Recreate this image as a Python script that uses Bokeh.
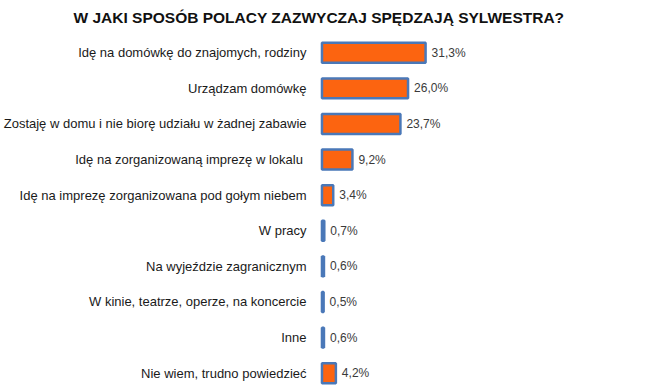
from bokeh.plotting import figure
from bokeh.models import Range1d, FixedTicker, ColumnDataSource
from bokeh.core.properties import value
from bokeh.embed import file_html
from bokeh.resources import INLINE

title = "W JAKI SPOSÓB POLACY ZAZWYCZAJ SPĘDZAJĄ SYLWESTRA?"
categories = [
    "Idę na domówkę do znajomych, rodziny",
    "Urządzam domówkę",
    "Zostaję w domu i nie biorę udziału w żadnej zabawie",
    "Idę na zorganizowaną imprezę w  lokalu",
    "Idę na imprezę zorganizowana pod gołym niebem",
    "W pracy",
    "Na wyjeździe zagranicznym",
    "W kinie, teatrze, operze, na koncercie",
    "Inne",
    "Nie wiem, trudno powiedzieć",
]
values = [31.3, 26.0, 23.7, 9.2, 3.4, 0.7, 0.6, 0.5, 0.6, 4.2]
value_labels = ["31,3%", "26,0%", "23,7%", "9,2%", "3,4%", "0,7%", "0,6%", "0,5%", "0,6%", "4,2%"]

W, H = 653, 391
LEFT, TOP = 310, 28
scale = 3.32
zero_px = 320.5
x0 = -(zero_px - LEFT) / scale
x1 = x0 + (W - LEFT) / scale
first_c, step = 48.5, 36.0
y_top = -(first_c - TOP) / step
y_bot = (H - first_c) / step

pos = list(range(len(categories)))
src = ColumnDataSource(dict(y=pos, v=values, lab=value_labels))

p = figure(width=W, height=H, output_backend="svg", toolbar_location=None,
           x_range=Range1d(x0, x1), y_range=Range1d(y_bot, y_top),
           min_border_left=LEFT, min_border_top=TOP, min_border_right=0, min_border_bottom=0)
p.outline_line_color = None
p.background_fill_color = "white"
p.border_fill_color = "white"
p.xgrid.visible = False
p.ygrid.visible = False
p.xaxis.visible = False

p.title.text = title
p.title.align = "left"
p.title.offset = 72 - LEFT
p.title.standoff = 13
p.title.text_font = "Liberation Sans"
p.title.text_font_size = "15.5px"
p.title.text_font_style = "bold"
p.title.text_color = "#111111"

ax = p.yaxis[0]
ax.ticker = FixedTicker(ticks=pos)
ax.major_label_overrides = {i: c for i, c in enumerate(categories)}
ax.axis_line_color = None
ax.major_tick_line_color = None
ax.minor_tick_line_color = None
ax.major_tick_out = 0
ax.major_tick_in = 0
ax.major_label_standoff = 5
ax.major_label_text_font = "Liberation Sans"
ax.major_label_text_font_size = "13px"
ax.major_label_text_color = "#1a1a1a"

p.hbar(y="y", left=0, right="v", height=0.56, source=src,
       fill_color="#FC6410", line_color="#4A78B8", line_width=2.5)

p.text(x="v", y="y", text="lab", source=src, x_offset=6,
       text_font=value("Liberation Sans"), text_font_size="12px",
       text_color="#3a3a3a", text_baseline="middle", text_align="left")

open("out.html", "w").write(file_html(p, INLINE))
